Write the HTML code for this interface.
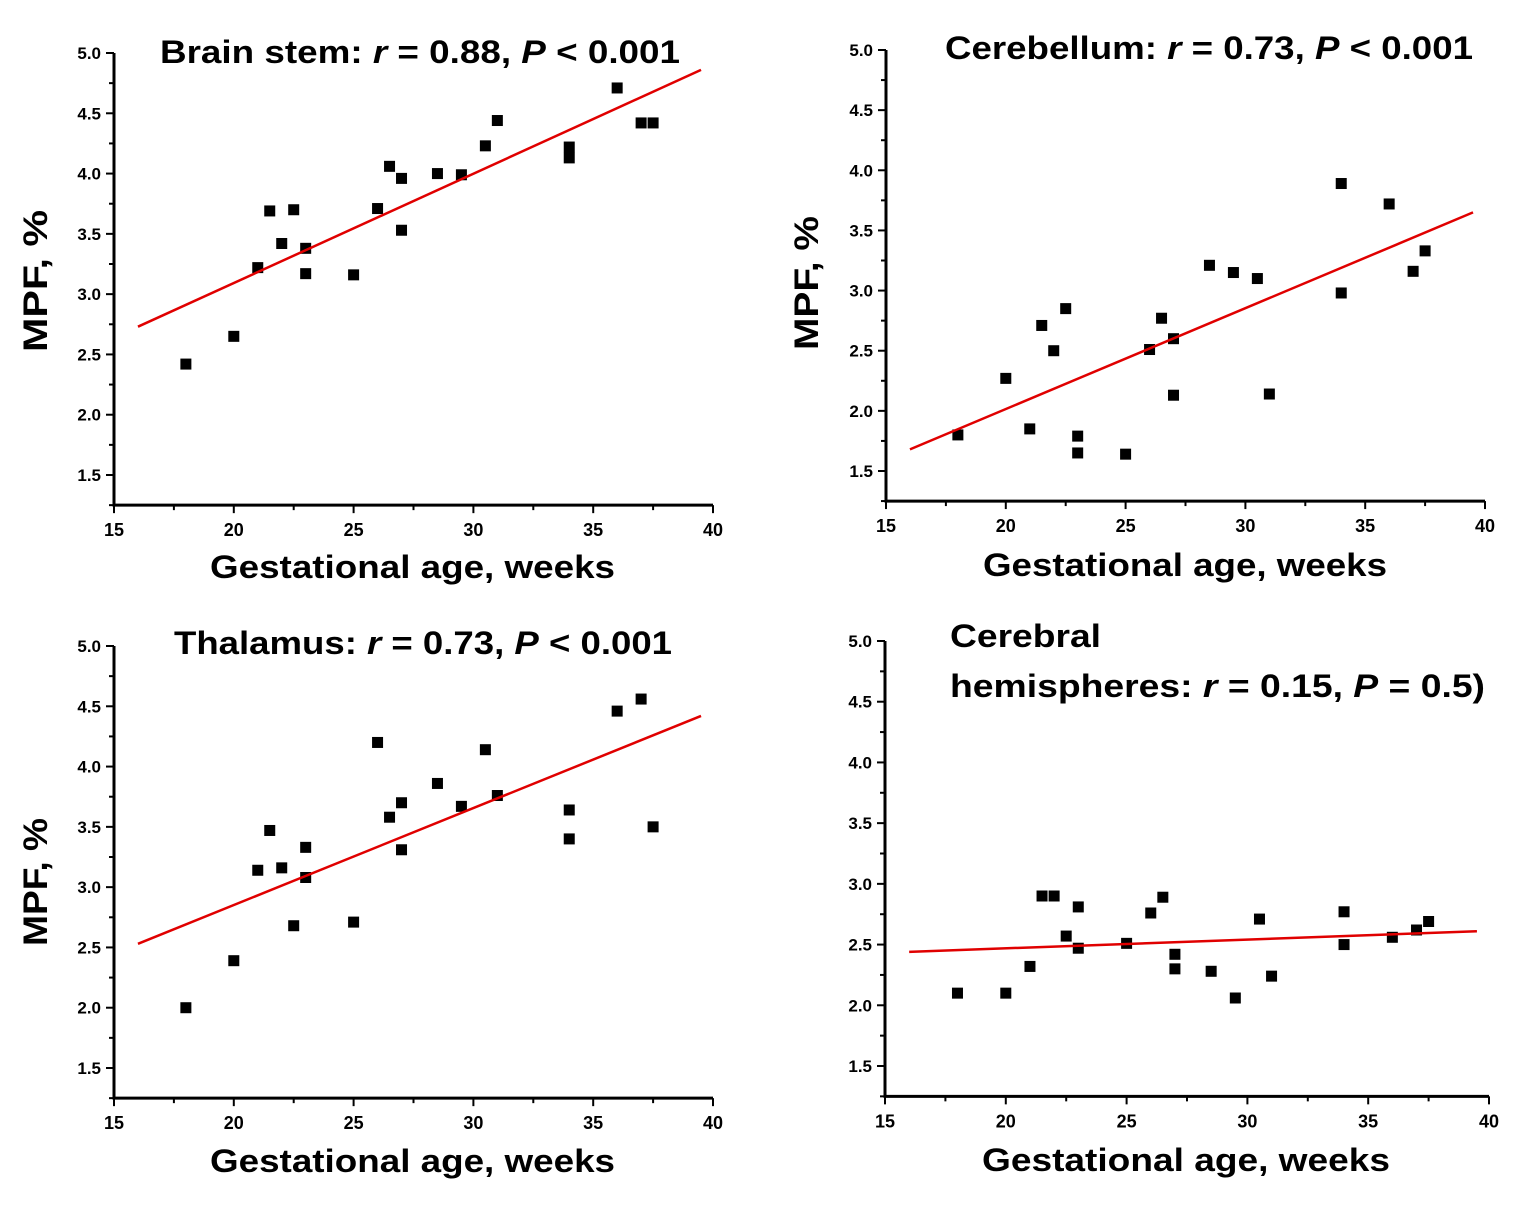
<!DOCTYPE html>
<html><head><meta charset="utf-8"><style>
body{margin:0;background:#fff}
svg text{font-family:"Liberation Sans",Arial,sans-serif;font-weight:bold;fill:#000}
</style></head><body>
<svg id="c" width="1524" height="1210" xmlns="http://www.w3.org/2000/svg"></svg>
<script>
const xTicks=[15,20,25,30,35,40];
const yTicks=[1.5,2.0,2.5,3.0,3.5,4.0,4.5,5.0];
const ages=[18,20,21,21.5,22,22.5,23,23,25,26,26.5,27,27,28.5,29.5,30.5,31,34,34,36,37,37.5];
const brainStem=[2.42,2.65,3.22,3.69,3.42,3.70,3.38,3.17,3.16,3.71,4.06,3.96,3.53,4.00,3.99,4.23,4.44,4.22,4.13,4.71,4.42,4.42];
const cerebellum=[1.80,2.27,1.85,2.71,2.50,2.85,1.79,1.65,1.64,2.51,2.77,2.60,2.13,3.21,3.15,3.10,2.14,3.89,2.98,3.72,3.16,3.33];
const thalamus=[2.00,2.39,3.14,3.47,3.16,2.68,3.33,3.08,2.71,4.20,3.58,3.70,3.31,3.86,3.67,4.14,3.76,3.64,3.40,4.46,4.56,3.50];
const hemispheres=[2.10,2.10,2.32,2.90,2.90,2.57,2.81,2.47,2.51,2.76,2.89,2.42,2.30,2.28,2.06,2.71,2.24,2.77,2.50,2.56,2.62,2.69];
const fitX=[16,39.5];
const fitBrainStem=[2.73,4.86];
const fitCerebellum=[1.68,3.65];
const fitThalamus=[2.53,4.42];
const fitHemispheres=[2.44,2.61];

const NS="http://www.w3.org/2000/svg";
const svg=document.getElementById('c');
function mk(tag,attrs,parent){const e=document.createElementNS(NS,tag);for(const k in attrs)e.setAttribute(k,attrs[k]);(parent||svg).appendChild(e);return e;}

const panels=[
 {id:'brain-stem',L:114,R:713,y5:53,y15:475,vals:brainStem,fit:fitBrainStem,title:[{t:'Brain stem: ',i:0},{t:'r',i:1},{t:' = 0.88, ',i:0},{t:'P',i:1},{t:' < 0.001',i:0}],tx:160,tw:520,ty:63,xt:[210,405,578],yt:[47,210,142]},
 {id:'cerebellum',L:886,R:1485,y5:50,y15:471,vals:cerebellum,fit:fitCerebellum,title:[{t:'Cerebellum: ',i:0},{t:'r',i:1},{t:' = 0.73, ',i:0},{t:'P',i:1},{t:' < 0.001',i:0}],tx:945,tw:528,ty:59,xt:[983,404,576],yt:[818,216,134]},
 {id:'thalamus',L:114,R:713,y5:646,y15:1068,vals:thalamus,fit:fitThalamus,title:[{t:'Thalamus: ',i:0},{t:'r',i:1},{t:' = 0.73, ',i:0},{t:'P',i:1},{t:' < 0.001',i:0}],tx:174,tw:498,ty:654,xt:[210,405,1172],yt:[47,818,128]},
 {id:'cerebral-hemispheres',L:885,R:1489,y5:641,y15:1066,vals:hemispheres,fit:fitHemispheres,title:null,xt:[982,408,1171],yt:null}
];

panels.forEach(p=>{
  const g=mk('g',{});
  
  
  const sx=v=>p.L+(v-15)/25*(p.R-p.L);
  const k=(p.y15-p.y5)/3.5;
  const sy=v=>p.y5+(5-v)*k;
  const bottom=sy(1.25);
  const ax=mk('path',{d:`M${p.L} ${p.y5} V${bottom} H${p.R}`,fill:'none',stroke:'#000','stroke-width':3},g);
  
  
  yTicks.forEach(v=>{
    mk('line',{x1:p.L-8,x2:p.L,y1:sy(v),y2:sy(v),stroke:'#000','stroke-width':2},g);
    const t=mk('text',{x:p.L-13,y:sy(v)+6,'text-anchor':'end','font-size':17},g);
    t.textContent=v.toFixed(1);
    
    
    if(v<5) mk('line',{x1:p.L-5,x2:p.L,y1:sy(v+0.25),y2:sy(v+0.25),stroke:'#000','stroke-width':2},g);
  });
  mk('line',{x1:p.L-5,x2:p.L,y1:sy(1.25),y2:sy(1.25),stroke:'#000','stroke-width':2},g);
  xTicks.forEach(v=>{
    mk('line',{x1:sx(v),x2:sx(v),y1:bottom,y2:bottom+8,stroke:'#000','stroke-width':2},g);
    const t=mk('text',{x:sx(v),y:bottom+31,'text-anchor':'middle','font-size':18},g);
    t.textContent=v;
    
    
    if(v<40) mk('line',{x1:sx(v+2.5),x2:sx(v+2.5),y1:bottom,y2:bottom+5,stroke:'#000','stroke-width':2},g);
  });
  ages.forEach((a,i)=>{
    const r=mk('rect',{x:sx(a)-5.5,y:sy(p.vals[i])-5.5,width:11,height:11,fill:'#000'},g);
    
    
  });
  const fl=mk('line',{x1:sx(fitX[0]),y1:sy(p.fit[0]),x2:sx(fitX[1]),y2:sy(p.fit[1]),stroke:'#e00000','stroke-width':2.5},g);
  
  
  const xt=mk('text',{x:p.xt[0],y:p.xt[2],'font-size':32,textLength:p.xt[1],lengthAdjust:'spacingAndGlyphs'},g);
  xt.textContent='Gestational age, weeks';
  
  
  if(p.yt){
    const yt=mk('text',{x:0,y:0,'font-size':34,textLength:p.yt[2],lengthAdjust:'spacingAndGlyphs',transform:`translate(${p.yt[0]},${p.yt[1]+p.yt[2]}) rotate(-90)`},g);
    yt.textContent='MPF, %';
    
    
  }
  if(p.title){
    const tt=mk('text',{x:p.tx,y:p.ty,'font-size':32,textLength:p.tw,lengthAdjust:'spacingAndGlyphs'},g);
    
    
    p.title.forEach(s=>{const ts=mk('tspan',{},tt);ts.textContent=s.t;if(s.i)ts.setAttribute('font-style','italic');});
  }
});
const t1=mk('text',{x:950,y:647,'font-size':32,textLength:151,lengthAdjust:'spacingAndGlyphs'});
t1.textContent='Cerebral';


const t2=mk('text',{x:950,y:697,'font-size':32,textLength:535,lengthAdjust:'spacingAndGlyphs'});


[['hemispheres: ',0],['r',1],[' = 0.15, ',0],['P',1],[' = 0.5)',0]].forEach(s=>{const ts=mk('tspan',{},t2);ts.textContent=s[0];if(s[1])ts.setAttribute('font-style','italic');});
</script>
</body></html>
